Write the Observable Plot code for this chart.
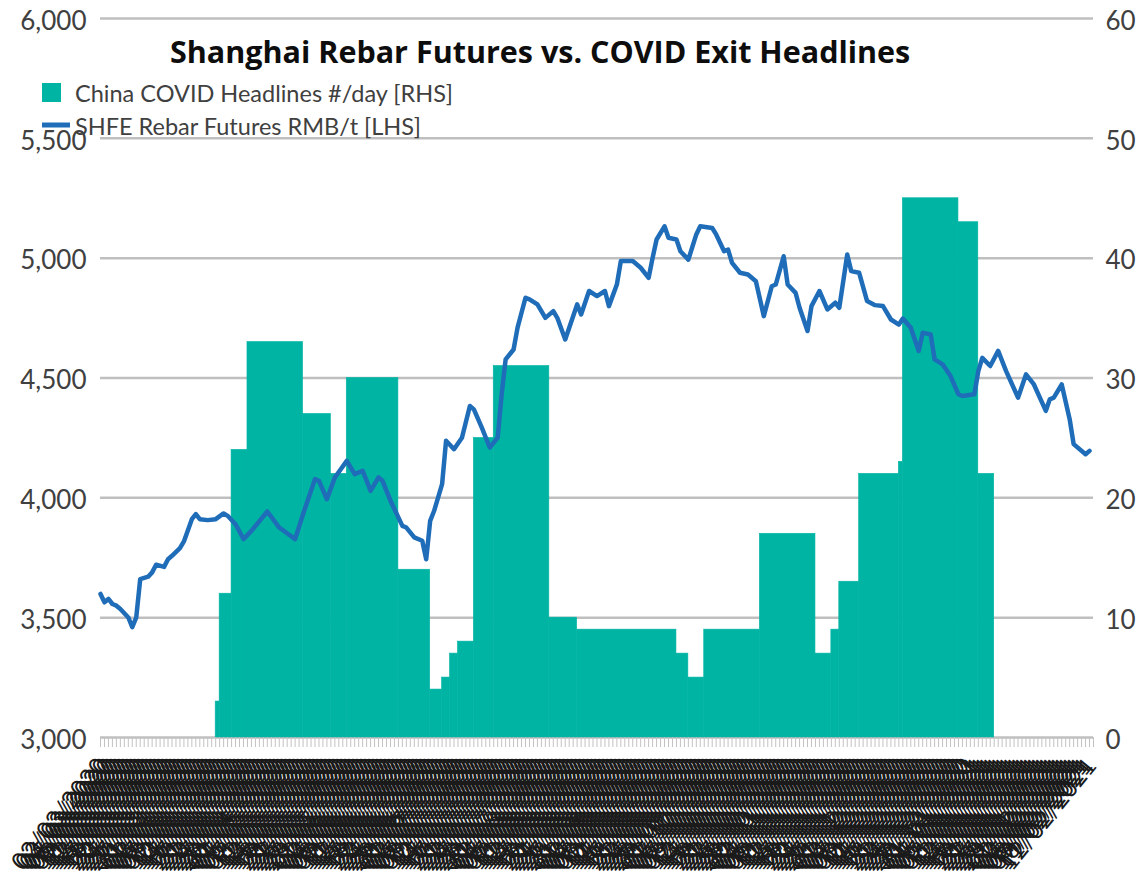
<!DOCTYPE html>
<html>
<head>
<meta charset="utf-8">
<script src="https://cdn.jsdelivr.net/npm/d3@7"></script>
<script src="https://cdn.jsdelivr.net/npm/@observablehq/plot@0.6"></script>
<style>
  html, body { margin: 0; padding: 0; background: #ffffff; }
  #wrap { position: relative; width: 1145px; height: 883px; overflow: hidden; }
  #chart { position: absolute; left: 0; top: 0; }
  #overlay { position: absolute; left: 0; top: 0; }
</style>
</head>
<body>
<div id="wrap">
  <div id="chart"></div>
  <svg id="overlay" width="1145" height="160"></svg>
</div>
<script>
// ---------------- DATA ----------------
const titleText = "Shanghai Rebar Futures vs. COVID Exit Headlines";
const seriesNames = ["China COVID Headlines #/day [RHS]", "SHFE Rebar Futures RMB/t [LHS]"];

// number of trading days on the category axis and the first day
const N_DAYS = 250;
const FIRST_DAY = "2020-03-02";

// China COVID headlines per day (RHS), as runs: day index where each level starts, and its level
const headlineRunStart = [29, 30, 33, 37, 51, 58, 62, 75, 83, 86, 88, 90, 94, 99, 113, 120, 145, 148, 152, 166, 180, 184, 186, 191, 201, 202, 216, 221, 225];
const headlineRunValue = [3, 12, 24, 33, 27, 22, 30, 14, 4, 5, 7, 8, 25, 31, 10, 9, 7, 5, 9, 17, 7, 9, 13, 22, 23, 45, 43, 22, 0];

// SHFE rebar futures (LHS), RMB/t, read at these day indices
const rebarDay = [0,1,2,3,4,5,7,8,9,10,12,13,14,16,17,18,20,21,23,24,25,27,29,31,32,34,36,38,42,45,49,51,54,55,57,59,62,64,66,68,70,71,73,76,77,79,81,82,83,84,86,87,89,91,93,94,96,98,100,101,102,104,105,107,108,110,112,114,115,117,120,121,123,125,127,128,130,131,134,136,138,139,140,142,143,145,146,148,150,151,154,155,157,158,159,161,163,165,167,169,170,172,173,175,176,178,179,181,183,185,186,188,189,191,193,195,197,199,201,202,204,206,207,209,210,212,214,216,217,220,221,222,224,226,228,231,233,235,238,239,240,242,244,245,248,249];
const rebarPrice = [3599,3564,3578,3557,3550,3536,3501,3460,3501,3661,3671,3689,3721,3712,3744,3758,3790,3818,3911,3932,3911,3907,3911,3935,3925,3890,3828,3862,3943,3876,3828,3932,4078,4071,3994,4085,4154,4099,4113,4029,4085,4071,3988,3883,3876,3835,3821,3744,3904,3946,4057,4238,4203,4251,4383,4369,4293,4210,4251,4432,4578,4619,4710,4835,4828,4807,4751,4779,4751,4661,4807,4765,4863,4842,4863,4800,4890,4988,4988,4960,4918,5001,5078,5133,5085,5078,5029,4994,5099,5133,5126,5099,5029,5036,4980,4939,4932,4904,4758,4883,4890,5008,4890,4855,4793,4696,4800,4863,4786,4814,4793,5015,4946,4939,4821,4804,4800,4744,4723,4748,4710,4613,4689,4682,4578,4557,4508,4432,4425,4432,4529,4584,4550,4613,4529,4418,4515,4473,4363,4411,4418,4473,4328,4224,4182,4196];

// axis ticks
const leftTicks = [3000, 3500, 4000, 4500, 5000, 5500, 6000];
const rightTicks = [0, 10, 20, 30, 40, 50, 60];

// ---------------- BUILD ----------------
const TEAL = "#00b4a4";
const BLUE = "#1f6db8";
const GRID = "#bfbfbf";
const AXIS_TEXT = "#404040";
const FONT = "Lato, 'Open Sans', sans-serif";
const TITLE_FONT = "'Open Sans', Lato, sans-serif";

// dual axis mapping: RHS 0..60 spans the same height as LHS 3000..6000
const rhsToLhs = v => leftTicks[0] + v * (leftTicks[leftTicks.length - 1] - leftTicks[0]) / rightTicks[rightTicks.length - 1];
const lhsToRhs = t => Math.round((t - leftTicks[0]) * rightTicks[rightTicks.length - 1] / (leftTicks[leftTicks.length - 1] - leftTicks[0]));

// trading-day labels (weekdays from FIRST_DAY)
const dayLabels = [];
{
  const fmt = d3.utcFormat("%d/%m/%Y");
  let d = new Date(FIRST_DAY + "T00:00:00Z");
  while (dayLabels.length < N_DAYS) {
    const w = d.getUTCDay();
    if (w !== 0 && w !== 6) dayLabels.push(fmt(d));
    d = d3.utcDay.offset(d, 1);
  }
}

const runs = headlineRunStart.map((s, i) => ({
  start: s,
  end: i + 1 < headlineRunStart.length ? headlineRunStart[i + 1] : N_DAYS,
  value: headlineRunValue[i]
})).filter(r => r.value > 0);

const rebar = rebarDay.map((d, i) => ({ day: d, price: rebarPrice[i] }));

const dayBounds = d3.range(N_DAYS + 1);
const dayCenters = d3.range(N_DAYS).map(i => i + 0.5);

const chart = Plot.plot({
  width: 1145,
  height: 883,
  marginLeft: 100,
  marginRight: 52,
  marginTop: 18,
  marginBottom: 146,
  style: { fontFamily: FONT, background: "#ffffff", overflow: "visible" },
  x: { domain: [0, N_DAYS] },
  y: { domain: [leftTicks[0], leftTicks[leftTicks.length - 1]] },
  marks: [
    Plot.ruleY(leftTicks, { stroke: GRID, strokeWidth: 2.5 }),
    Plot.rectY(runs, { x1: "start", x2: "end", y1: leftTicks[0], y2: d => rhsToLhs(d.value), fill: TEAL, stroke: TEAL, strokeWidth: 0.6 }),
    Plot.axisX(dayBounds, { anchor: "bottom", tickSize: 10, stroke: "#c2c2c2", strokeWidth: 1, fill: "none", label: null }),
    Plot.line(rebar, { x: "day", y: "price", stroke: BLUE, strokeWidth: 4.5, strokeLinejoin: "round", strokeLinecap: "round" }),
    Plot.axisY(leftTicks, { anchor: "left", tickSize: 0, tickPadding: 14, fontSize: 26, fill: AXIS_TEXT, dy: 3, tickFormat: d3.format(","), label: null }),
    Plot.axisY(rightTicks.map(rhsToLhs), { anchor: "right", tickSize: 0, tickPadding: 12, fontSize: 26, fill: AXIS_TEXT, dy: 3, tickFormat: lhsToRhs, label: null }),
    Plot.axisX(dayCenters, { anchor: "bottom", tickSize: 0, tickPadding: 24, tickRotate: -51, fontSize: 24.5, fill: "#1a1a1a", tickFormat: c => dayLabels[Math.floor(c)], label: null })
  ]
});
document.getElementById("chart").appendChild(chart);

// ---------------- TITLE + LEGEND overlay ----------------
const ov = d3.select("#overlay").style("font-family", FONT);
ov.append("text")
  .attr("x", 170).attr("y", 63)
  .attr("font-family", TITLE_FONT)
  .attr("font-size", 30.5).attr("font-weight", 700).attr("fill", "#0d0d0d")
  .text(titleText);

ov.append("rect").attr("x", 42).attr("y", 83).attr("width", 19).attr("height", 19).attr("fill", TEAL);
ov.append("text").attr("x", 75).attr("y", 102).attr("font-size", 23.5).attr("fill", AXIS_TEXT).text(seriesNames[0]);

ov.append("line").attr("x1", 42).attr("x2", 70).attr("y1", 125).attr("y2", 125).attr("stroke", BLUE).attr("stroke-width", 5);
ov.append("text").attr("x", 75).attr("y", 135).attr("font-size", 23.5).attr("fill", AXIS_TEXT).text(seriesNames[1]);
</script>
</body>
</html>
